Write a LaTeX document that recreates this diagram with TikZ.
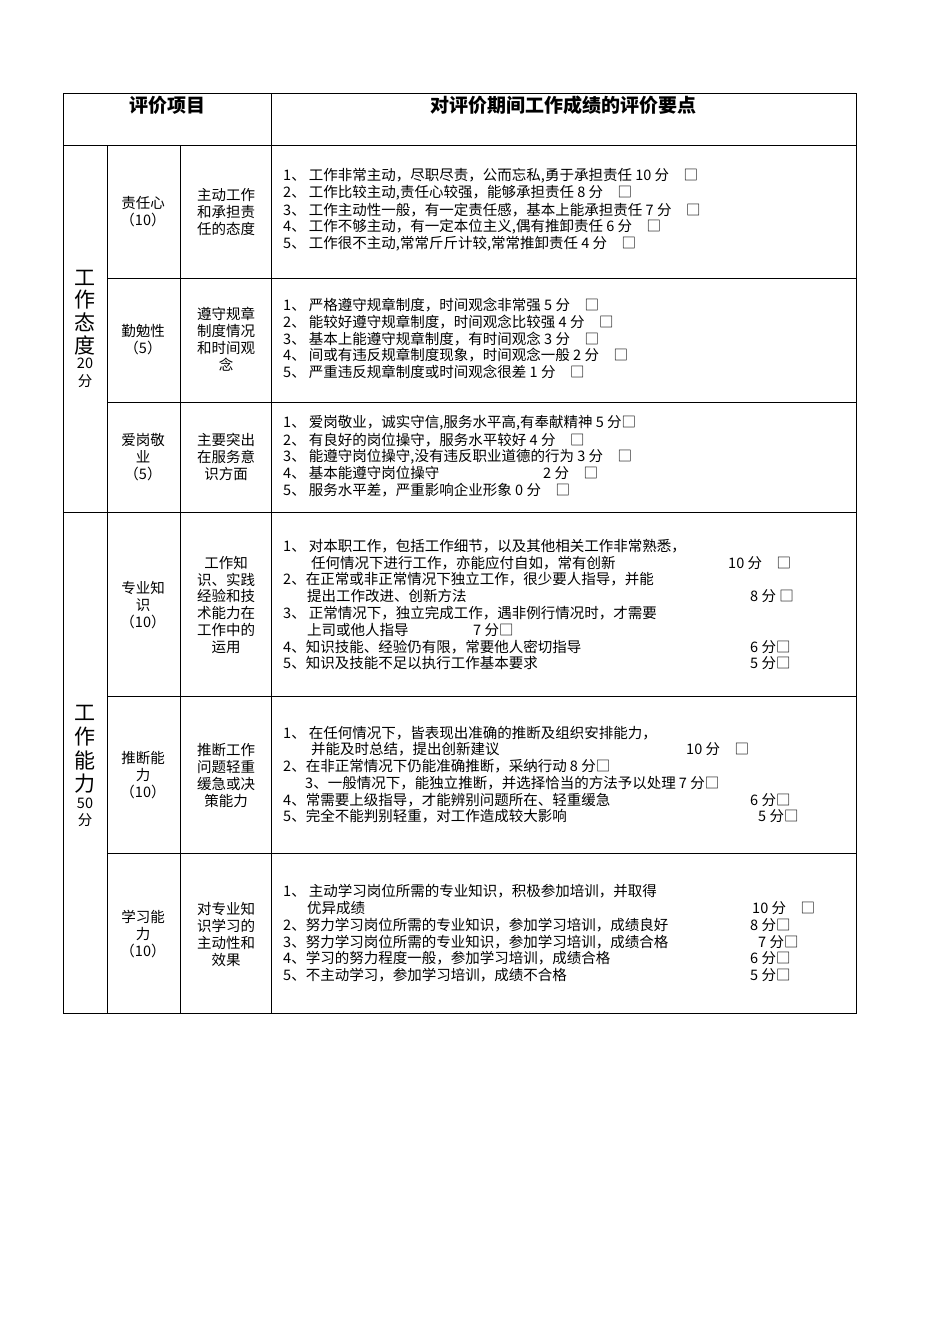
\documentclass[tikz,border=0pt]{standalone}
\usepackage{fontspec}
\setmainfont{Noto Sans CJK SC}
\begin{document}
\begin{tikzpicture}[x=1pt,y=-1pt,
  t/.style={anchor=west,inner sep=0pt,font=\fontsize{14.5}{16}\selectfont},
  c/.style={anchor=center,inner sep=0pt,font=\fontsize{14.5}{16}\selectfont},
  big/.style={anchor=center,inner sep=0pt,font=\fontsize{21}{22}\selectfont},
  hd/.style={anchor=center,inner sep=0pt,font=\fontsize{19}{20}\selectfont\bfseries},
  ln/.style={line width=0.8pt}]
\useasboundingbox (0,0) rectangle (950,1344);
\fill[white] (0,0) rectangle (950,1344);
% grid
\draw[ln] (63,93) rectangle (856,1013);
\draw[ln] (271,93) -- (271,1013);
\draw[ln] (63,145) -- (856,145);
\draw[ln] (107,145) -- (107,1013);
\draw[ln] (180,145) -- (180,1013);
\draw[ln] (107,278) -- (856,278);
\draw[ln] (107,402) -- (856,402);
\draw[ln] (63,512) -- (856,512);
\draw[ln] (107,696) -- (856,696);
\draw[ln] (107,853) -- (856,853);
% header
\node[hd] (h1) at (167,105) {评价项目};
\node[hd] (h2) at (563,105) {对评价期间工作成绩的评价要点};
% col1
\foreach \ch/\yy [count=\i] in {工/278,作/300,态/322,度/345}{\node[big] (a\i) at (85,\yy) {\ch};}
\node[c] (a5) at (85,363) {20};\node[c] (a6) at (85,381) {分};
\foreach \ch/\yy [count=\i] in {工/713,作/737,能/760,力/784}{\node[big] (b\i) at (85,\yy) {\ch};}
\node[c] (b5) at (85,803) {50};\node[c] (b6) at (85,820) {分};
% col2
\foreach \s/\yy [count=\i] in {责任心/203,（10）/220,勤勉性/331,（5）/348,爱岗敬/440,业/457,（5）/474,专业知/588,识/605,（10）/622,推断能/758,力/775,（10）/792,学习能/917,力/934,（10）/951}{\node[c] (k\i) at (143,\yy) {\s};}
% col3
\foreach \s/\yy [count=\i] in {主动工作/195,和承担责/212,任的态度/229,遵守规章/314,制度情况/331,和时间观/348,念/365,主要突出/440,在服务意/457,识方面/474,工作知/563,识、实践/580,经验和技/596,术能力在/613,工作中的/630,运用/647,推断工作/750,问题轻重/767,缓急或决/784,策能力/801,对专业知/909,识学习的/926,主动性和/943,效果/960}{\node[c] (m\i) at (226,\yy) {\s};}
% col4
\foreach \s/\xx/\yy [count=\i] in {
{1、\ 工作非常主动，尽职尽责，公而忘私,勇于承担责任 10 分\quad □}/283/176,
{2、\ 工作比较主动,责任心较强，能够承担责任 8 分\quad □}/283/193,
{3、\ 工作主动性一般，有一定责任感，基本上能承担责任 7 分\quad □}/283/210,
{4、\ 工作不够主动，有一定本位主义,偶有推卸责任 6 分\quad □}/283/227,
{5、\ 工作很不主动,常常斤斤计较,常常推卸责任 4 分\quad □}/283/244,
{1、\ 严格遵守规章制度，时间观念非常强 5 分\quad □}/283/305,
{2、\ 能较好遵守规章制度，时间观念比较强 4 分\quad □}/283/322,
{3、\ 基本上能遵守规章制度，有时间观念 3 分\quad □}/283/339,
{4、\ 间或有违反规章制度现象，时间观念一般 2 分\quad □}/283/355,
{5、\ 严重违反规章制度或时间观念很差 1 分\quad □}/283/372,
{1、\ 爱岗敬业，诚实守信,服务水平高,有奉献精神 5 分□}/283/423,
{2、\ 有良好的岗位操守，服务水平较好 4 分\quad □}/283/440,
{3、\ 能遵守岗位操守,没有违反职业道德的行为 3 分\quad □}/283/457,
{4、\ 基本能遵守岗位操守}/283/473,
{2 分\quad □}/543/473,
{5、\ 服务水平差，严重影响企业形象 0 分\quad □}/283/490,
{1、\ 对本职工作，包括工作细节，以及其他相关工作非常熟悉，}/283/546,
{任何情况下进行工作，亦能应付自如，常有创新}/311/563,
{10 分\quad □}/728/563,
{2、在正常或非正常情况下独立工作，很少要人指导，并能}/283/579,
{提出工作改进、创新方法}/307/596,
{8 分 □}/750/596,
{3、\ 正常情况下，独立完成工作，遇非例行情况时，才需要}/283/613,
{上司或他人指导}/307/630,
{7 分□}/473/630,
{4、知识技能、经验仍有限，常要他人密切指导}/283/647,
{6 分□}/750/647,
{5、知识及技能不足以执行工作基本要求}/283/663,
{5 分□}/750/663,
{1、\ 在任何情况下，皆表现出准确的推断及组织安排能力，}/283/733,
{并能及时总结，提出创新建议}/311/749,
{10 分\quad □}/686/749,
{2、在非正常情况下仍能准确推断，采纳行动 8 分□}/283/766,
{3、一般情况下，能独立推断，并选择恰当的方法予以处理 7 分□}/305/783,
{4、常需要上级指导，才能辨别问题所在、轻重缓急}/283/800,
{6 分□}/750/800,
{5、完全不能判别轻重，对工作造成较大影响}/283/816,
{5 分□}/758/816,
{1、\ 主动学习岗位所需的专业知识，积极参加培训，并取得}/283/891,
{优异成绩}/307/908,
{10 分\quad □}/752/908,
{2、努力学习岗位所需的专业知识，参加学习培训，成绩良好}/283/925,
{8 分□}/750/925,
{3、努力学习岗位所需的专业知识，参加学习培训，成绩合格}/283/942,
{7 分□}/758/942,
{4、学习的努力程度一般，参加学习培训，成绩合格}/283/958,
{6 分□}/750/958,
{5、不主动学习，参加学习培训，成绩不合格}/283/975,
{5 分□}/750/975}{\node[t] (p\i) at (\xx,\yy) {\s};}
\end{tikzpicture}
\end{document}
